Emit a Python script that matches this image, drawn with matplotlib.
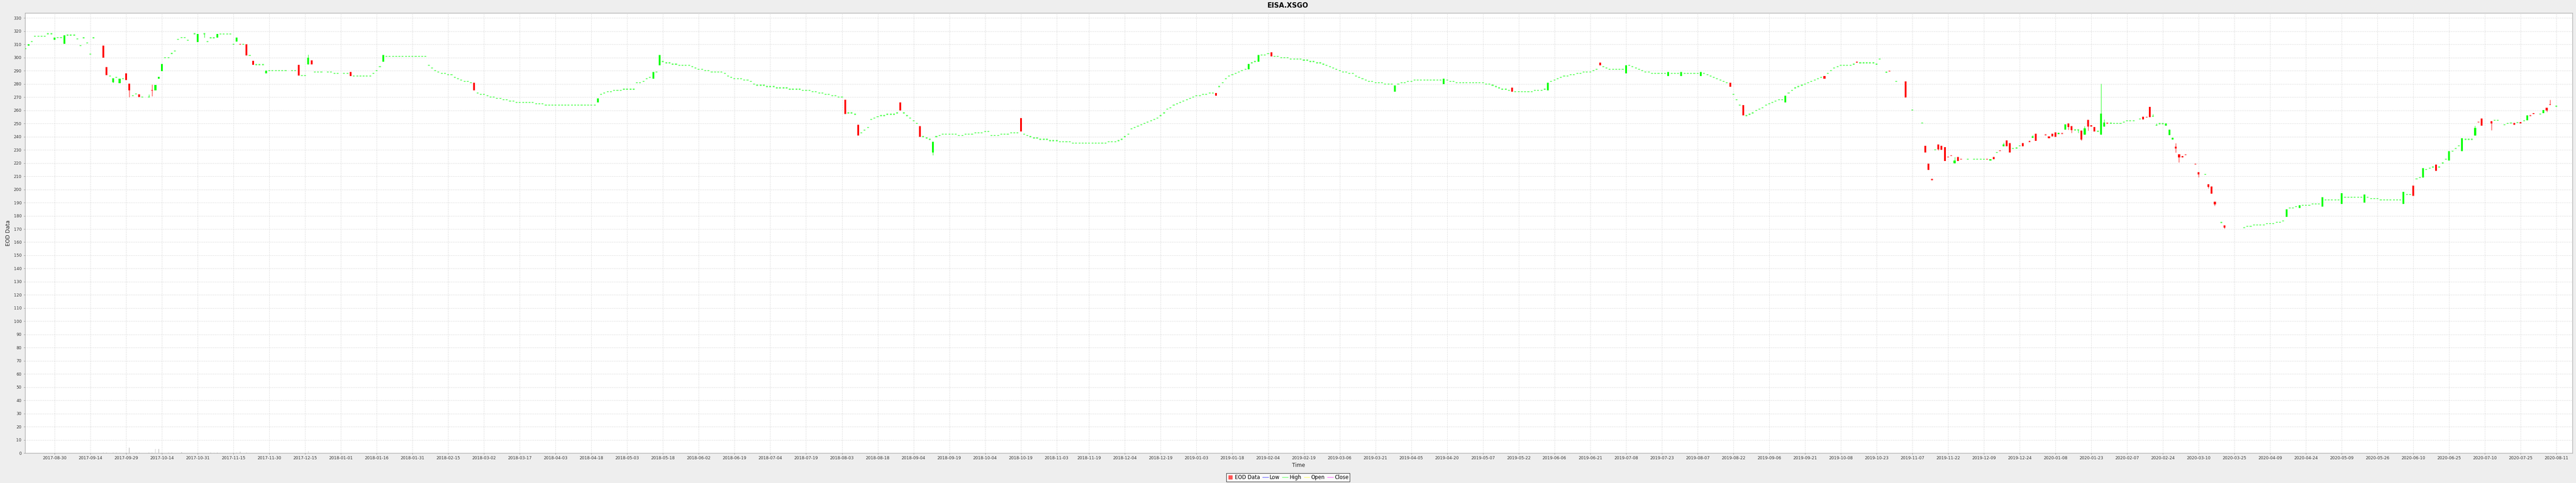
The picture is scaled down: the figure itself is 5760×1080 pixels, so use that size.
import numpy as np
import matplotlib
matplotlib.use("Agg")
import matplotlib.pyplot as plt
from matplotlib.lines import Line2D

# one close per weekday starting at start_day, None = no quote that day
start_day = "2017-08-17"
closes = [
    306.7, 310, 312, 316.1, 316.1, 316.1, 316.1, 318, 318, 315.3,
    315.1, 315.1, 317, 317, 317, 317, 314, 309, 315, 311,
    302.5, 315, None, None, 299.9, 286.6, 285.9, 284.2, 285.1, 284,
    284, 282.8, 275, 271, 272.4, 269.9, 270, None, 270.2, 275,
    279.1, 285.3, 295.2, 300, 300, 303.1, 305.1, 313.7, 315.1, 315.1,
    313, None, 318, 317.8, None, 318, 312, 315, 315, 318,
    317.9, 317.9, 317.9, 317.9, 310, 315, 310, 310, 301.5, 301.6,
    294.5, 294.6, 294.6, 294.6, 290, 290, 290, 290, 290, 290,
    290, None, 290, 290, 286.2, 286.2, 286.2, 300, 294.8, 289,
    289, 289, None, 289, 289, 288, 288, None, 288, 288,
    286, 286, 286, 286, 286, 286, 286, 288, 290, 293,
    302, 301, 301, 301, 301, 301, 301, 301, 301, 301,
    301, 301, 301, 301, 294, 292, 290, 289, 288, 288,
    287, 287, 285, 284, 283, 282, 282, 281, 275, 273,
    272, 272, 271, 270, 270, 269, 269, 268, 268, 267,
    267, 266, 266, 266, 266, 266, 266, 265, 265, 265,
    264, 264, 264, 264, 264, 264, 264, 264, 264, 264,
    264, 264, 264, 264, 264, 264, 269, 272, 273, 274,
    274, 275, 275, 275, 276, 276, 276, 276, 281, 281,
    282, 284, 285, 289, 289, 302, 297, 296, 296, 295,
    295, 294, 294, 294, 294, 293, 292, 291, 291, 290,
    290, 289, 289, 289, 289, 288, 286, 285, 284, 284,
    284, 283, 283, 282, 280, 279, 279, 279, 278, 278,
    278, 277, 277, 277, 277, 276, 276, 276, 276, 275,
    275, 275, 274, 274, 273, 273, 272, 272, 271, 271,
    270, 270, 257, 258, 258, 257, 241, 243, 245, 247,
    253, 254, 255, 256, 256, 257, 257, 257, 258, 260,
    258, 256, 254, 252, 250, 240, 240, 239, 238, 236,
    240, 241, 242, 242, 242, 242, 242, 241, 241, 242,
    242, 242, 243, 243, 243, 244, 244, 241, 241, 241,
    242, 242, 242, 243, 243, 243, 244, 242, 241, 240,
    239, 239, 238, 238, 238, 237, 237, 237, 236, 236,
    236, 236, 235, 235, 235, 235, 235, 235, 235, 235,
    235, 235, 235, 236, 236, 236, 237, 238, 240, 242,
    246, 247, 248, 249, 250, 251, 252, 253, 254, 256,
    258, 261, 262, 264, 265, 266, 267, 268, 269, 270,
    271, 271, 272, 272, 273, 273, 271, 278, 281, 284,
    286, 287, 288, 289, 290, 291, 295, 296, 297, 302,
    302, 302, 303, 301, 301, 301, 300, 300, 300, 299,
    299, 299, 299, 298, 298, 297, 297, 296, 296, 295,
    294, 293, 292, 291, 290, 289, 289, 288, 288, 286,
    285, 284, 283, 282, 282, 281, 281, 281, 280, 280,
    280, 279, 280, 281, 281, 282, 282, 283, 283, 283,
    283, 283, 283, 283, 283, 283, 284, 283, 282, 282,
    281, 281, 281, 281, 281, 281, 281, 281, 281, 280,
    280, 279, 278, 277, 276, 276, 275, 274, 274, 274,
    274, 274, 274, 274, 275, 275, 275, 276, 281, 282,
    283, 284, 285, 286, 286, 287, 287, 288, 288, 289,
    289, 289, 290, 291, 294, 293, 292, 291, 291, 291,
    291, 291, 294, 294, 293, 292, 291, 290, 289, 289,
    288, 288, 288, 288, 288, 289, 288, 288, 288, 289,
    288, 288, 288, 288, 288, 289, 288, 287, 286, 285,
    284, 283, 282, 281, 278, 272, 268, 264, 256, 256,
    257, 258, 260, 261, 262, 264, 265, 266, 267, 268,
    268, 271, 273, 275, 277, 278, 279, 280, 281, 282,
    283, 284, 285, 284, 288, 290, 292, 293, 294, 294,
    294, 294, 295, 296, 296, 296, 296, 296, 296, 295,
    299, None, 288.9, 289.8, None, 281.8, None, None, 269.8, None,
    260.2, None, None, 250.5, 228.1, 214.8, 206.9, 230, 230.3, 230,
    221.4, 224.6, 225.5, 221.8, 221.4, 222.8, None, 222.9, None, 222.8,
    222.8, 222.8, 222.8, 222.8, 223, 222.9, 228, 229.3, 234.2, 232.9,
    228.1, 231.1, 231.8, 233, 232.9, None, 236.3, 240.2, 236.8, None,
    None, 241.4, 239, 240.2, 239.9, 242.8, 242.4, 249.3, 247.3, 245.1,
    245.1, 245.1, 237.7, 246.4, 247.6, 247.6, 244, 244.1, 257.5, 250.6,
    250.2, 250.2, 250.1, 250.1, 250.1, 251.1, 252.1, 252.1, 252.1, None,
    253.4, 253.1, 254.9, 254.9, 255.5, 248.6, 249.9, 249.9, 249.9, 245.3,
    239.3, 231.1, 224.4, 224.3, 226.3, None, None, 219.3, 211.4, None,
    211.4, 201.8, 196.9, 188.8, None, 174.9, 171.1, None, None, None,
    None, None, 171.1, 172, 172, 173, 173, 173, 173, 174,
    174, 174, 175, 175, 176, 185, 186, 186, 187, 188,
    188, 188, 188, 189, 189, 189, 194, 192, 192, 192,
    192, 192, 197, 194, 194, 194, 194, 194, 194, 196,
    194, 193, 193, 193, 192, 192, 192, 192, 192, 192,
    192, 198, 196, 196, 195, 208, 209, 216, 215, 216,
    217, 214, 217, 220, 223, 229, 229, 231, 233, 239,
    238, 238, 238, 246.5, 251, 248.5, None, None, 249.9, 252.4,
    252.4, None, 249.1, 250.1, 250.3, 249, 250.7, 250, 252, 256.2,
    256, 257, None, 257.1, 260.3, 260, 264.2, None, 263.1,
]

# days whose open differs from the close (weekday number from start_day)
body_day = [1, 9, 12, 24, 25, 27, 29, 31, 32, 35, 38, 39, 40, 41, 42,
            53, 55, 59, 65, 66, 68, 70, 74, 84, 87, 88, 100, 110, 138, 176,
            193, 195, 252, 256, 269, 275, 279, 306, 366, 376, 379, 383, 421, 436, 457,
            468, 484, 492, 505, 509, 515, 524, 528, 541, 553, 563, 573, 578, 584, 585,
            586, 588, 589, 590, 591, 592, 593, 594, 595, 603, 604, 605, 607, 608, 609,
            610, 612, 614, 616, 617, 618, 621, 622, 623, 624, 625, 626, 627, 628, 629,
            631, 632, 633, 634, 635, 636, 638, 639, 640, 651, 652, 653, 654, 655, 658,
            659, 660, 661, 662, 663, 664, 667, 668, 671, 672, 673, 676, 695, 699, 706,
            712, 719, 731, 734, 737, 741, 745, 749, 753, 754, 755, 758, 765, 767, 769,
            770, 771, 774, 775, 776]
body_open = [309, 313.4, 310.3, 309.1, 292.6, 281.4, 280.7, 288.1, 280.2, 272.1, 270, 275.5, 275, 284, 289.8,
             311.9, 318, 315, 312, 310.5, 310, 297.4, 287.9, 294.3, 294.8, 298, 289, 297, 281, 266,
             284, 294, 268, 249, 266, 248, 228, 254, 273, 291, 297, 304, 274, 280, 277,
             275, 296, 288, 286, 286, 286, 281, 264, 266, 286, 297, 290, 281.9, 233.2, 219.5,
             207.9, 234.2, 233.1, 232.2, 224.7, 225.6, 219.9, 224.6, 223.1, 222.9, 221.9, 224.6, 230, 232.9, 237.2,
             235, 231, 235, 236.4, 239.3, 242.1, 242.1, 240.1, 242.1, 243.2, 241.9, 243, 245.4, 250.2, 248,
             245.1, 244.5, 241.4, 252.7, 248.6, 247.3, 241.4, 247.6, 250.3, 255, 255, 262.5, 255.5, 248.6, 248.4,
             241.1, 237.7, 232.3, 226.6, 225.2, 226.4, 219.4, 213, 204, 202.1, 190.7, 172.7, 179, 186, 187,
             189, 190, 189, 203, 209, 219, 222, 229, 241, 251.5, 253.8, 251.7, 250.4, 251.2, 252.4,
             256.3, 257.8, 258, 261.9, 264.6]

# days with a wick beyond the body
wick_day = [27, 32, 38, 39, 41, 55, 87, 279, 588, 593, 608, 616, 617, 628, 629, 631, 632,
            633, 634, 638, 639, 654, 655, 661, 662, 668, 671, 673, 676, 753, 758, 775, 776]
wick_lo = [281, 270, 270, 270.7, 284, 315, 294.8, 226, 229.8, 219.9, 232.9, 236.3, 239.3, 245.3, 243, 243, 237.2,
           241.4, 244.7, 241.4, 247.6, 255.5, 248.6, 228.1, 220.5, 209.2, 200.7, 187.5, 170.4, 241, 244.8, 258.9, 264.2]
wick_hi = [284.2, 280.2, 272, 279.5, 285.5, 318, 302.2, 236, 234.2, 224.6, 235.5, 237.2, 241.3, 250.2, 248, 245.1, 244.5,
           248, 252.7, 280.1, 253.2, 257.2, 250.2, 235.1, 226.6, 213, 204, 190.7, 172.7, 248.2, 251.7, 261.9, 268]

# grey volume bars at the foot of the plot (same y units)
vol_day = [24, 25, 27, 28, 29, 31, 32, 34, 35, 38, 39, 40, 41, 42, 44, 45, 48,
           57, 58, 59, 64, 65, 66, 68, 70, 87]
vol_val = [0.3, 0.3, 0.3, 0.3, 0.3, 0.4, 4.2, 0.3, 0.3, 0.5, 0.5, 3.2, 3.2, 0.3, 0.6, 0.5, 0.8,
           0.3, 0.3, 0.3, 0.3, 0.6, 1.1, 0.3, 0.2, 1.3]

tick_dates = ["2017-08-30", "2017-09-14", "2017-09-29", "2017-10-14", "2017-10-31", "2017-11-15",
              "2017-11-30", "2017-12-15", "2018-01-01", "2018-01-16", "2018-01-31", "2018-02-15",
              "2018-03-02", "2018-03-17", "2018-04-03", "2018-04-18", "2018-05-03", "2018-05-18",
              "2018-06-02", "2018-06-19", "2018-07-04", "2018-07-19", "2018-08-03", "2018-08-18",
              "2018-09-04", "2018-09-19", "2018-10-04", "2018-10-19", "2018-11-03", "2018-11-19",
              "2018-12-04", "2018-12-19", "2019-01-03", "2019-01-18", "2019-02-04", "2019-02-19",
              "2019-03-06", "2019-03-21", "2019-04-05", "2019-04-20", "2019-05-07", "2019-05-22",
              "2019-06-06", "2019-06-21", "2019-07-08", "2019-07-23", "2019-08-07", "2019-08-22",
              "2019-09-06", "2019-09-21", "2019-10-08", "2019-10-23", "2019-11-07", "2019-11-22",
              "2019-12-09", "2019-12-24", "2020-01-08", "2020-01-23", "2020-02-07", "2020-02-24",
              "2020-03-10", "2020-03-25", "2020-04-09", "2020-04-24", "2020-05-09", "2020-05-26",
              "2020-06-10", "2020-06-25", "2020-07-10", "2020-07-25", "2020-08-11"]

# --------- OHLC arrays --------- #
c = np.array([np.nan if v is None else v for v in closes], dtype=float)
o = c.copy()
o[body_day] = body_open
lo = np.fmin(o, c)
hi = np.fmax(o, c)
lo[wick_day] = np.minimum(lo[wick_day], wick_lo)
hi[wick_day] = np.maximum(hi[wick_day], wick_hi)
x = np.arange(len(c))
ok = ~np.isnan(c)
up = ok & (c >= o)
down = ok & (c < o)

W, H = 5760, 1080
fig = plt.figure(figsize=(W / 100, H / 100), dpi=100, facecolor="#EEEEEE")
ax = fig.add_axes([56 / W, (H - 1013.3) / H, 5696 / W, 984 / H])
ax.set_facecolor("white")

ax.bar(vol_day, vol_val, width=0.25, color="#CFCFCF", lw=0, zorder=2)

min_h = 0.75  # a flat day still shows as a short dash
bot = np.fmin(o, c)
size = np.abs(c - o)
thin = size < min_h
for mask, col in [(up, "#00FF00"), (down, "#FF0000")]:
    wk = mask & (hi - lo > size + 0.2)
    ax.vlines(x[wk], lo[wk], hi[wk], color=col, lw=0.8, alpha=0.85, zorder=3)
    m = mask & ~thin
    ax.bar(x[m], size[m], bottom=bot[m], width=0.56, color=col, lw=0, zorder=4)
    m = mask & thin
    ax.bar(x[m], min_h, bottom=bot[m] - min_h / 2, width=0.56, color=col, alpha=0.6, lw=0, zorder=4)

ax.set_xlim(-0.07, 782.9)
ax.set_ylim(0, 333.7)
ax.set_xticks(np.busday_count(start_day, tick_dates))
ax.set_xticklabels(tick_dates)
ax.set_yticks(np.arange(0, 331, 10))
ax.tick_params(axis="both", length=2, width=0.7, color="#909090", labelsize=6.7, labelcolor="#333333")
ax.tick_params(axis="x", pad=2.5)
ax.tick_params(axis="y", pad=3.6)
ax.set_axisbelow(True)
ax.grid(True, color="#D4D4D4", linestyle=(0, (2, 2)), linewidth=0.72)
for s in ax.spines.values():
    s.set_color("#A8A8A8")
    s.set_linewidth(0.9)

fig.text(0.5, 1 - 12.7 / H, "EISA.XSGO", ha="center", va="center", fontsize=10.8, weight="bold")
fig.text(2904 / W, 1 - 1041 / H, "Time", ha="center", va="center", fontsize=8.6, color="#222222")
fig.text(19 / W, 1 - 521 / H, "EOD Data", ha="center", va="center", rotation=90, fontsize=8.6, color="#222222")

handles = [Line2D([], [], marker="s", linestyle="none", markersize=5.2, color="#FF5555"),
           Line2D([], [], color="#5555FF", lw=0.8),
           Line2D([], [], color="#55FF55", lw=0.8),
           Line2D([], [], color="#FFFF55", lw=0.8),
           Line2D([], [], color="#FF55FF", lw=0.8)]
leg = fig.legend(handles, ["EOD Data", "Low", "High", "Open", "Close"], loc="center",
                 bbox_to_anchor=(0.5, 1 - 1067.5 / H), ncol=5, frameon=True, fancybox=False,
                 edgecolor="black", fontsize=8.3, handlelength=1.1, handletextpad=0.3,
                 columnspacing=0.5, borderpad=0.25, borderaxespad=0)
leg.get_frame().set_linewidth(0.8)

fig.savefig("out.png", dpi=100, facecolor=fig.get_facecolor())
